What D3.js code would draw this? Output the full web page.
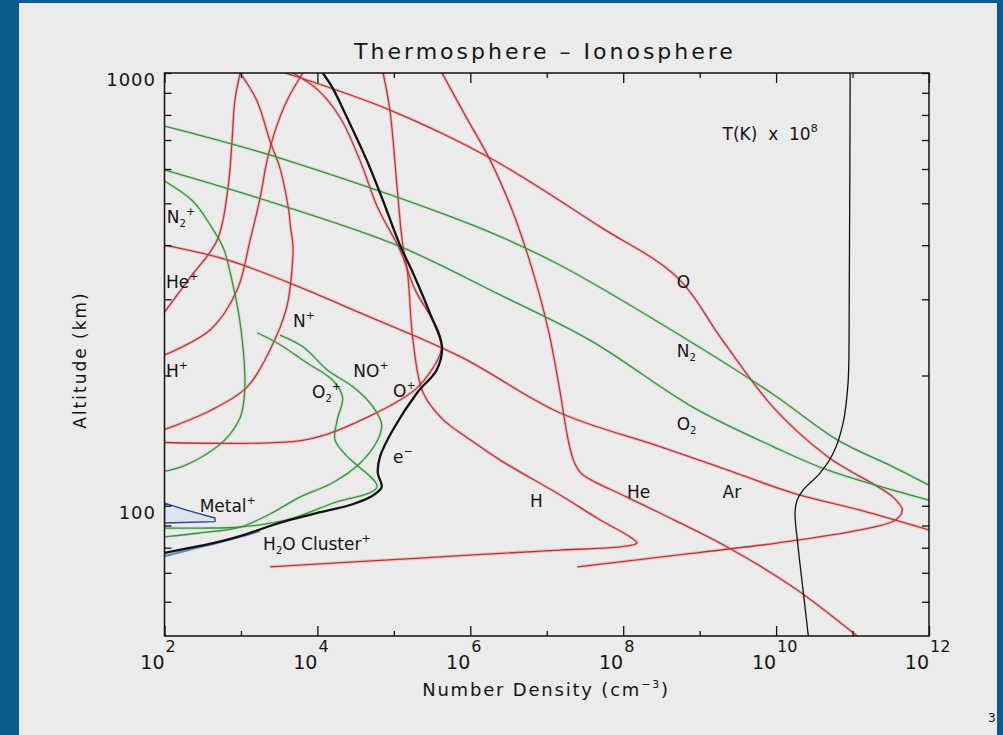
<!DOCTYPE html>
<html><head><meta charset="utf-8">
<script src="https://cdn.jsdelivr.net/npm/d3@7"></script>
<style>
html,body{margin:0;padding:0;background:#0b5d8e;}
svg{display:block;}
text{font-family:"DejaVu Sans",sans-serif;fill:#151515;}
</style></head><body>
<svg id="c" width="1003" height="735"></svg>
<script>
// ---- data: each point is [log10 number density (cm^-3), altitude (km)] ----
// neutrals
const O   = [[3.58,1000],[4.95,821],[6.26,636],[7.70,441],[8.70,338],[9.30,241],[9.96,169],[10.67,130],[11.53,104.7],[11.65,97.7],[11.56,92.7],[11.10,87.9],[10.01,82.0],[8.48,76.1],[7.40,72.2]];
const N2  = [[2.00,754],[3.51,636],[6.13,438],[7.17,360],[8.87,240],[9.96,181],[10.80,142],[11.53,123],[12.00,111.6]];
const O2  = [[2.00,597],[3.51,496],[5.04,400],[6.39,307],[7.57,241],[8.91,169],[9.96,137],[10.67,121],[12.00,103]];
const Ar  = [[2.00,400],[2.82,370],[3.64,327],[4.56,279],[5.87,221],[7.17,164],[8.48,137],[9.36,121],[10.22,107],[11.10,97.7],[12.00,87.9]];
const He  = [[5.63,1000],[5.93,800],[6.26,629],[6.52,496],[6.78,366],[7.02,255],[7.17,185],[7.28,142],[7.36,126],[7.46,118.4],[8.05,104.7],[8.48,96.2],[9.36,80.3],[10.22,64.9],[11.06,50]];
const Hn  = [[4.86,1000],[4.95,817],[5.04,551],[5.11,409],[5.18,345],[5.25,241],[5.38,183],[5.63,159],[6.00,142],[6.39,127.5],[7.17,106],[7.70,92.7],[8.09,84.7],[8.18,82.0],[7.96,80.3],[7.17,79.0],[5.34,75.7],[3.38,72.2]];
// ions
const HeP = [[2.00,280],[2.33,336],[2.69,411],[2.83,542],[2.88,682],[2.92,862],[2.99,1000]];
const HP  = [[2.00,223],[2.60,255],[2.95,315],[3.12,411],[3.25,514],[3.34,626],[3.45,738],[3.60,862],[3.81,1000]];
const NP  = [[2.00,150],[2.60,166],[3.08,188],[3.38,229],[3.60,288],[3.67,356],[3.68,400],[3.65,438],[3.62,488],[3.51,603],[3.38,696],[3.21,862],[2.99,1000]];
const OP  = [[2.00,140],[3.73,141],[4.16,147],[4.65,160],[5.08,175.5],[5.30,187],[5.51,208],[5.62,229],[5.60,248],[5.47,276],[5.28,315],[5.08,390],[4.79,488],[4.56,626],[4.30,787],[4.01,913],[3.68,1000]];
const N2P = [[2.00,563],[2.37,506],[2.60,445],[2.77,394],[2.86,345],[2.99,264],[3.05,185],[2.99,160],[2.79,142],[2.53,131],[2.27,124],[2.00,120]];
const O2P = [[3.21,251],[3.47,238],[3.86,214],[4.20,195],[4.33,178],[4.26,158],[4.23,142],[4.39,130],[4.52,124],[4.78,110.4],[4.19,101.2],[3.60,92.7],[2.99,89.3],[2.46,88.8],[2.00,88.8]];
const NOP = [[3.51,248],[3.81,233],[4.13,206],[4.47,188],[4.73,169],[4.84,154],[4.79,142],[4.56,125.5],[4.20,113],[3.77,104.7],[3.38,95.7],[2.99,89.3],[2.46,86.5],[2.00,84.7]];
const Elec= [[4.07,1000],[4.20,923],[4.39,787],[4.65,626],[4.86,506],[5.08,400],[5.25,345],[5.47,279],[5.63,233],[5.56,206],[5.30,182],[4.99,150],[4.82,130],[4.79,119],[4.84,110.4],[4.69,104.7],[4.43,100.4],[3.99,96.2],[3.64,92.7],[3.34,89.3],[3.03,85.5],[2.69,82.4],[2.33,79.9],[2.00,77.8]];
const Metal   = [[2.00,101.4],[2.29,97.7],[2.66,93.7],[2.66,91.9],[2.00,91.2]];
const Cluster = [[2.00,76.5],[2.33,79.2],[2.69,82.0],[3.03,85.1],[3.25,87.4]];
// temperature: [T (K), altitude km]; plotted as T x 1e8
const Temp = [[930,1000],[922,600],[912,400],[905,300],[900,241],[873,192],[751,155],[556,132],[376,119],[225,108.7],[188,103],[177,96.2],[194,80.3],[225,63.9],[264,50]];

// ticks
const xMajorTicks = [2,4,6,8,10,12];
const xMinorTicks = [3,5,7,9,11];
const yMajorTicks = [100,1000];
const yMinorTicks = [60,70,80,90,200,300,400,500,600,700,800,900];

// curve labels: [parts, logN, altitude]
const labels = [
  [[["N"],["2","sub"],["+","sup"]], 2.03, 450],
  [[["He"],["+","sup"]], 2.02, 318],
  [[["H"],["+","sup"]], 2.02, 198],
  [[["N"],["+","sup"]], 3.68, 259],
  [[["NO"],["+","sup"]], 4.47, 198],
  [[["O"],["2","sub"],["+","sup"]], 3.93, 177.5],
  [[["O"],["+","sup"]], 4.99, 178],
  [[["e"],["\u2212","sup"]], 4.99, 125.5],
  [[["Metal"],["+","sup"]], 2.46, 96.7],
  [[["H"],["2","sub"],["O Cluster"],["+","sup"]], 3.29, 79],
  [[["H"]], 6.78, 99.3],
  [[["He"]], 8.05, 104.2],
  [[["Ar"]], 9.30, 104.2],
  [[["O"]], 8.70, 318],
  [[["N"],["2","sub"]], 8.70, 221],
  [[["O"],["2","sub"]], 8.70, 150],
  [[["T(K) \u00a0x\u00a0 10"],["8","sup"]], 9.30, 700]
];

// ---- drawing ----
const W=1003,H=735;
const svg=d3.select("#c");
svg.append("rect").attr("width",W).attr("height",H).attr("fill","#0b5d8e");
svg.append("rect").attr("x",19).attr("y",3).attr("width",978).attr("height",732).attr("fill","#ebebeb");

const L=164.5,R=929,T=73,B=636;
const x=d3.scaleLog().domain([1e2,1e12]).range([L,R]);
const y=d3.scaleLog().domain([50,1000]).range([B,T]);

svg.append("clipPath").attr("id","clip").append("rect").attr("x",L).attr("y",T).attr("width",R-L).attr("height",B-T);
const plot=svg.append("g").attr("clip-path","url(#clip)");

const line=d3.line().x(d=>x(Math.pow(10,d[0]))).y(d=>y(d[1])).curve(d3.curveCatmullRom.alpha(0.5));
const lineClosed=d3.line().x(d=>x(Math.pow(10,d[0]))).y(d=>y(d[1])).curve(d3.curveLinearClosed);

const red={core:"#b8383a",halo:"#f2a6a6"}, green={core:"#3a9040",halo:"#b5dfb3"};
const series=[
  [HeP,red],[HP,red],[NP,red],[OP,red],[Ar,red],[He,red],[Hn,red],[O,red],
  [N2P,green],[O2P,green],[NOP,green],[N2,green],[O2,green]
];
series.forEach(([d,c])=>{
  plot.append("path").attr("d",line(d)).attr("fill","none").attr("stroke",c.halo).attr("stroke-width",3.2).attr("stroke-opacity",0.6);
});
series.forEach(([d,c])=>{
  plot.append("path").attr("d",line(d)).attr("fill","none").attr("stroke",c.core).attr("stroke-width",1.3);
});
// metal+ and cluster
plot.append("path").attr("d",lineClosed(Metal)).attr("fill","#dce4f3").attr("stroke","#2c3f8f").attr("stroke-width",1.4);
plot.append("path").attr("d",line(Cluster)).attr("fill","none").attr("stroke","#5d8fc0").attr("stroke-width",2.2);
// electrons
plot.append("path").attr("d",line(Elec)).attr("fill","none").attr("stroke","#111").attr("stroke-width",2.3);
// temperature
const tline=d3.line().x(d=>x(d[0]*1e8)).y(d=>y(d[1])).curve(d3.curveCatmullRom.alpha(0.5));
plot.append("path").attr("d",tline(Temp)).attr("fill","none").attr("stroke","#111").attr("stroke-width",1.3);

// axes (ticks inward)
function clean(g){g.select(".domain").remove();g.selectAll(".tick line").attr("stroke","#111").attr("stroke-width",1.3);g.selectAll(".tick text").remove();}
const p10=a=>a.map(e=>Math.pow(10,e));
svg.append("g").attr("transform",`translate(0,${B})`).call(d3.axisBottom(x).tickValues(p10(xMajorTicks)).tickSize(-10).tickFormat("")).call(clean);
svg.append("g").attr("transform",`translate(0,${B})`).call(d3.axisBottom(x).tickValues(p10(xMinorTicks)).tickSize(-5).tickFormat("")).call(clean);
svg.append("g").attr("transform",`translate(0,${T})`).call(d3.axisTop(x).tickValues(p10(xMajorTicks)).tickSize(-10).tickFormat("")).call(clean);
svg.append("g").attr("transform",`translate(0,${T})`).call(d3.axisTop(x).tickValues(p10(xMinorTicks)).tickSize(-5).tickFormat("")).call(clean);
svg.append("g").attr("transform",`translate(${L},0)`).call(d3.axisLeft(y).tickValues(yMajorTicks.concat(yMinorTicks)).tickSize(-7).tickFormat("")).call(clean);
svg.append("g").attr("transform",`translate(${R},0)`).call(d3.axisRight(y).tickValues(yMajorTicks.concat(yMinorTicks)).tickSize(-7).tickFormat("")).call(clean);
svg.append("rect").attr("x",L).attr("y",T).attr("width",R-L).attr("height",B-T).attr("fill","none").attr("stroke","#111").attr("stroke-width",1.5);

// tick labels
xMajorTicks.forEach(e=>{
  const px=x(Math.pow(10,e));
  svg.append("text").attr("x",px).attr("y",669).attr("text-anchor","end").attr("font-size",19).text("10");
  svg.append("text").attr("x",px+1).attr("y",652).attr("font-size",16).text(e);
});
yMajorTicks.forEach(v=>{
  svg.append("text").attr("x",156).attr("y",y(v)+13).attr("text-anchor","end").attr("font-size",18).attr("letter-spacing",1).text(v);
});

// titles
svg.append("text").attr("x",545).attr("y",59).attr("text-anchor","middle").attr("font-size",22).attr("letter-spacing",3).text("Thermosphere \u2013 Ionosphere");
const xt=svg.append("text").attr("x",546).attr("y",696).attr("text-anchor","middle").attr("font-size",18).attr("letter-spacing",1.8);
xt.append("tspan").text("Number Density (cm");
xt.append("tspan").attr("font-size",11).attr("dy",-8).text("\u22123");
xt.append("tspan").attr("dy",8).text(")");
svg.append("text").attr("transform","translate(86,360) rotate(-90)").attr("text-anchor","middle").attr("font-size",17).attr("letter-spacing",2).text("Altitude (km)");
svg.append("text").attr("x",988).attr("y",722).attr("font-size",12).attr("fill","#444").text("3");

// curve labels
labels.forEach(([parts,lx,ly])=>{
  const t=svg.append("text").attr("x",x(Math.pow(10,lx))).attr("y",y(ly)).attr("font-size",17);
  let shift=0;
  parts.forEach(([s,kind])=>{
    let target=0, fs=17;
    if(kind==="sub"){target=4;fs=10;}
    else if(kind==="sup"){target=-8;fs=11;}
    t.append("tspan").attr("dy",target-shift).attr("font-size",fs).text(s);
    shift=target;
  });
});
</script>
</body></html>
